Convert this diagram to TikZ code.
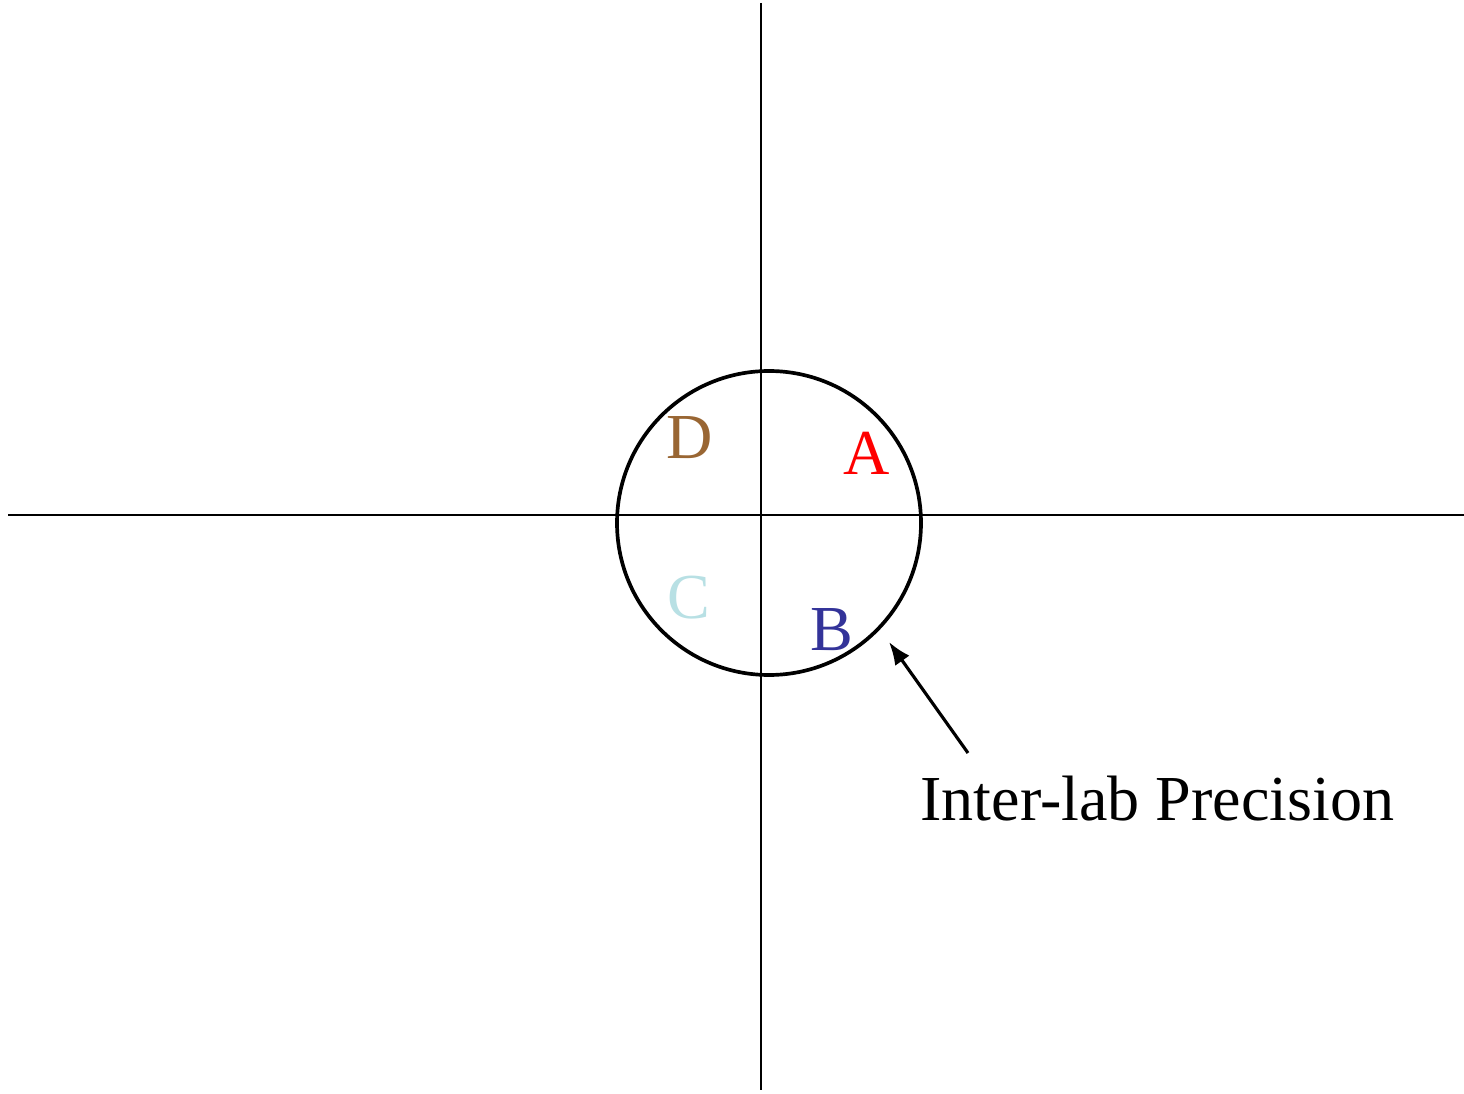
\documentclass[tikz,border=0pt]{standalone}
\usepackage{fontspec}
\setmainfont{Liberation Serif}
\usepackage{xcolor}
\usepackage{tikz}
\usetikzlibrary{arrows.meta}

\definecolor{labA}{RGB}{255,0,0}
\definecolor{labB}{RGB}{51,51,153}
\definecolor{labC}{RGB}{184,224,228}
\definecolor{labD}{RGB}{153,102,51}

\begin{document}
\begin{tikzpicture}[>=Latex,x=0.02cm,y=-0.02cm,
    lab/.style={font=\fontsize{36.5}{40}\selectfont,inner sep=0pt}]
    \useasboundingbox (0,0) rectangle (1464,1094);
    % axes
    \draw[line width=1.1pt] (8,515) -- (1464,515);
    \draw[line width=1.1pt] (761,3) -- (761,1090);
    % precision circle
    \draw[line width=2.1pt] (769,523) circle (152);
    \node[lab,text=labD] (labD) at (690,438) {D};
    \node[lab,text=labA] (labA) at (867,453) {A};
    \node[lab,text=labC] (labC) at (689,598) {C};
    \node[lab,text=labB] (labB) at (832,630) {B};
    % label and arrow
    \node[lab,anchor=base west] (prec) at (920,820) {Inter-lab Precision};
    \coordinate (tail) at (968,753);
    \coordinate (tip) at (889,642);
    \draw[->,line width=1.8pt,>={Latex[length=13pt,width=10pt]}] (tail) -- (tip);
\end{tikzpicture}
\end{document}
